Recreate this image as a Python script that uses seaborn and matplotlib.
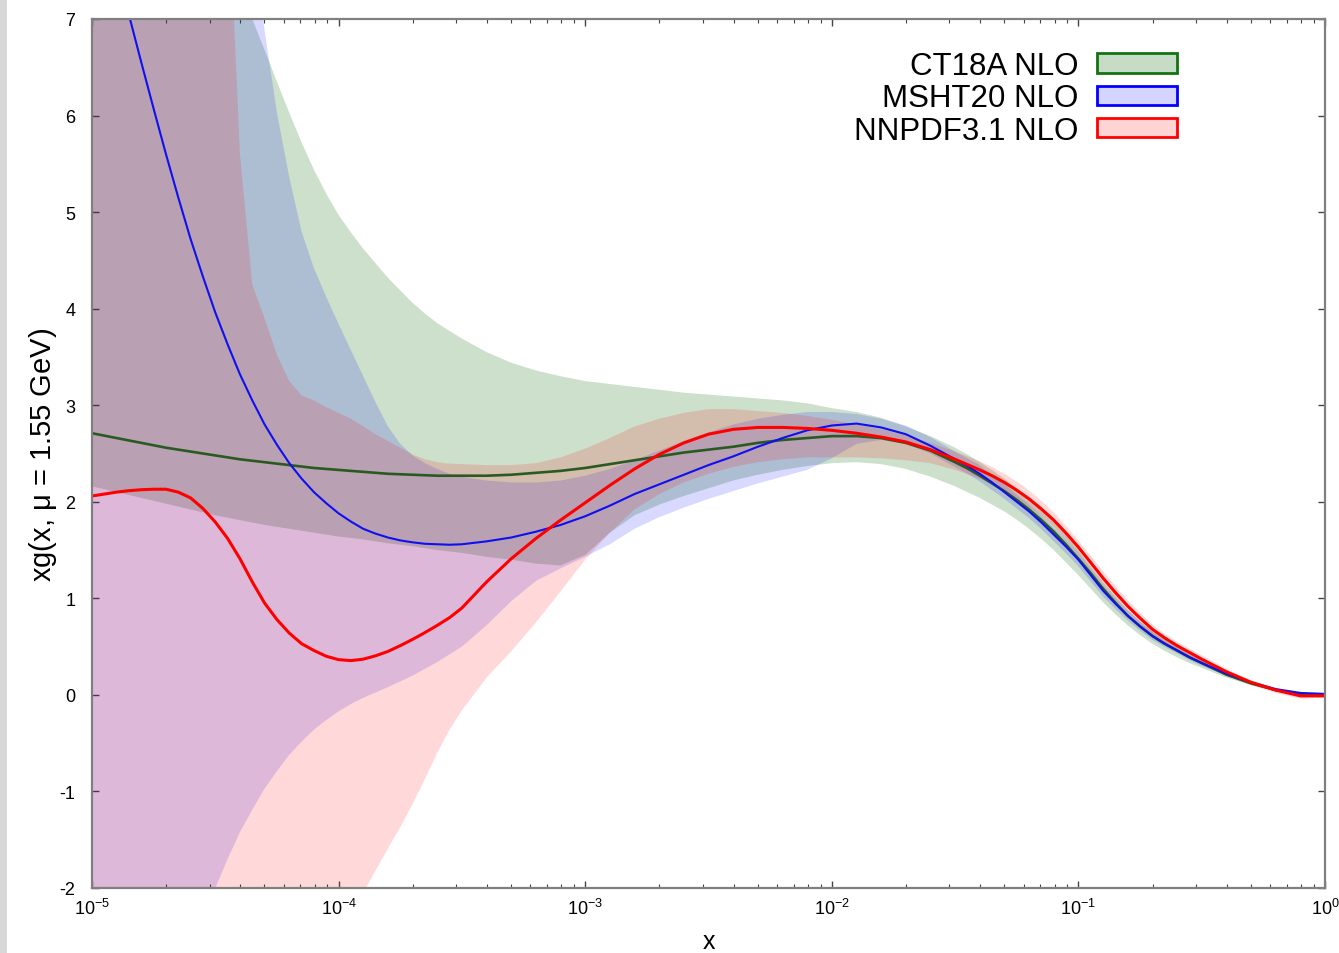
import matplotlib
matplotlib.use("Agg")
import matplotlib.pyplot as plt
import seaborn as sns
import numpy as np
import pandas as pd
from matplotlib.patches import Patch, Rectangle
from matplotlib.colors import to_rgba
from matplotlib.ticker import LogLocator, LogFormatterSciNotation, NullFormatter, FixedLocator

# ---------------------------------------------------------------------------
# Gluon PDF x*g(x) at mu = 1.55 GeV, sampled in log10(x)
# (finer sampling where the curves bend strongly)
# ---------------------------------------------------------------------------
LOG10_X = [-5.00, -4.95, -4.90, -4.85, -4.80, -4.75, -4.70, -4.65, -4.60, -4.55,
           -4.50, -4.45, -4.40, -4.35, -4.30, -4.25, -4.20, -4.15, -4.10, -4.05,
           -4.00, -3.95, -3.90, -3.85, -3.80, -3.75, -3.70, -3.65, -3.60, -3.55,
           -3.50,
           -3.4, -3.3, -3.2, -3.1, -3.0, -2.9, -2.8, -2.7, -2.6, -2.5,
           -2.4, -2.3, -2.2, -2.1, -2.0, -1.9, -1.8, -1.7, -1.6,
           -1.50, -1.45, -1.40, -1.35, -1.30, -1.25, -1.20, -1.15, -1.10, -1.05,
           -1.00, -0.95, -0.90, -0.85, -0.80, -0.75, -0.70, -0.65, -0.60, -0.55,
           -0.50,
           -0.4, -0.3, -0.2, -0.1, 0.0]

CT18A_CENTRAL = [2.71, 2.685, 2.66, 2.635, 2.61, 2.585, 2.56, 2.54, 2.52, 2.50,
                 2.48, 2.46, 2.44, 2.425, 2.41, 2.395, 2.38, 2.365, 2.35, 2.34,
                 2.33, 2.32, 2.31, 2.30, 2.29, 2.285, 2.28, 2.275, 2.27, 2.27,
                 2.27,
                 2.27, 2.28, 2.30, 2.32, 2.35, 2.39, 2.43, 2.47, 2.51, 2.54,
                 2.57, 2.61, 2.64, 2.66, 2.68, 2.68, 2.66, 2.61, 2.53,
                 2.41, 2.345, 2.27, 2.19, 2.11, 2.02, 1.92, 1.81, 1.69, 1.555,
                 1.41, 1.26, 1.10, 0.955, 0.82, 0.71, 0.61, 0.53, 0.46, 0.39,
                 0.33,
                 0.21, 0.12, 0.05, 0.01, 0.00]
CT18A_LOWER = [2.16, 2.13, 2.10, 2.07, 2.04, 2.01, 1.98, 1.95, 1.92, 1.89,
               1.86, 1.835, 1.81, 1.785, 1.76, 1.74, 1.72, 1.70, 1.68, 1.66,
               1.64, 1.625, 1.61, 1.59, 1.57, 1.555, 1.54, 1.52, 1.50, 1.485,
               1.47,
               1.43, 1.40, 1.36, 1.34, 1.45, 1.68, 1.86, 1.97, 2.06, 2.14,
               2.22, 2.28, 2.33, 2.37, 2.40, 2.41, 2.39, 2.34, 2.26,
               2.16, 2.10, 2.04, 1.97, 1.90, 1.815, 1.72, 1.615, 1.50, 1.37,
               1.24, 1.10, 0.96, 0.835, 0.72, 0.62, 0.53, 0.455, 0.39, 0.33,
               0.28,
               0.18, 0.10, 0.04, 0.00, -0.01]
CT18A_UPPER = [13.0, 12.4, 11.8, 11.2, 10.7, 10.2, 9.7, 9.25, 8.8, 8.4,
               8.0, 7.65, 7.32, 7.0, 6.68, 6.35, 6.03, 5.72, 5.44, 5.19,
               4.97, 4.79, 4.62, 4.47, 4.32, 4.19, 4.06, 3.95, 3.85, 3.77,
               3.69,
               3.55, 3.44, 3.36, 3.30, 3.25, 3.22, 3.19, 3.16, 3.13, 3.11,
               3.09, 3.07, 3.05, 3.02, 2.97, 2.93, 2.87, 2.78, 2.68,
               2.56, 2.49, 2.41, 2.33, 2.24, 2.14, 2.03, 1.915, 1.79, 1.65,
               1.50, 1.33, 1.17, 1.02, 0.88, 0.76, 0.66, 0.575, 0.50, 0.42,
               0.35,
               0.23, 0.13, 0.06, 0.02, 0.01]

MSHT20_CENTRAL = [8.60, 8.06, 7.55, 7.04, 6.55, 6.07, 5.60, 5.15, 4.72, 4.33,
                  3.96, 3.63, 3.32, 3.05, 2.80, 2.59, 2.40, 2.24, 2.10, 1.985,
                  1.88, 1.795, 1.72, 1.67, 1.63, 1.60, 1.58, 1.565, 1.56, 1.555,
                  1.56,
                  1.59, 1.63, 1.69, 1.76, 1.85, 1.96, 2.08, 2.18, 2.28, 2.38,
                  2.47, 2.57, 2.66, 2.74, 2.79, 2.81, 2.77, 2.70, 2.58,
                  2.44, 2.37, 2.29, 2.20, 2.10, 2.00, 1.90, 1.785, 1.66, 1.535,
                  1.40, 1.24, 1.08, 0.945, 0.82, 0.71, 0.61, 0.53, 0.46, 0.39,
                  0.33,
                  0.22, 0.13, 0.06, 0.02, 0.01]
MSHT20_LOWER = [-6.0, -5.5, -5.0, -4.55, -4.1, -3.7, -3.3, -2.95, -2.6, -2.29,
                -2.0, -1.70, -1.42, -1.19, -0.97, -0.79, -0.62, -0.485, -0.36, -0.26,
                -0.17, -0.095, -0.03, 0.025, 0.08, 0.14, 0.20, 0.27, 0.34, 0.42,
                0.50,
                0.72, 0.97, 1.18, 1.31, 1.43, 1.56, 1.72, 1.84, 1.94, 2.03,
                2.11, 2.19, 2.26, 2.33, 2.45, 2.60, 2.64, 2.60, 2.50,
                2.36, 2.29, 2.21, 2.12, 2.03, 1.93, 1.83, 1.715, 1.59, 1.465,
                1.33, 1.175, 1.02, 0.89, 0.77, 0.665, 0.57, 0.495, 0.43, 0.36,
                0.30,
                0.20, 0.11, 0.05, 0.01, 0.00]
MSHT20_UPPER = [18.0, 17.4, 16.8, 16.2, 15.6, 15.0, 14.4, 13.8, 13.2, 12.5,
                11.7, 10.8, 9.8, 7.9, 6.88, 6.03, 5.36, 4.80, 4.42, 4.12,
                3.84, 3.57, 3.30, 3.03, 2.78, 2.60, 2.48, 2.40, 2.34, 2.29,
                2.26,
                2.22, 2.20, 2.20, 2.22, 2.27, 2.34, 2.43, 2.53, 2.63, 2.72,
                2.80, 2.86, 2.90, 2.93, 2.93, 2.91, 2.86, 2.79, 2.67,
                2.52, 2.45, 2.38, 2.28, 2.18, 2.075, 1.97, 1.855, 1.73, 1.605,
                1.47, 1.305, 1.14, 1.00, 0.87, 0.755, 0.65, 0.565, 0.49, 0.42,
                0.36,
                0.24, 0.15, 0.07, 0.03, 0.02]

NNPDF31_CENTRAL = [2.06, 2.08, 2.10, 2.115, 2.125, 2.13, 2.13, 2.10, 2.04, 1.93,
                   1.79, 1.62, 1.41, 1.17, 0.95, 0.78, 0.64, 0.53, 0.46, 0.40,
                   0.365, 0.355, 0.37, 0.405, 0.45, 0.51, 0.575, 0.645, 0.72, 0.80,
                   0.90,
                   1.17, 1.41, 1.62, 1.81, 1.99, 2.17, 2.34, 2.49, 2.61, 2.70,
                   2.75, 2.77, 2.77, 2.76, 2.74, 2.71, 2.67, 2.62, 2.54,
                   2.44, 2.385, 2.33, 2.27, 2.20, 2.12, 2.03, 1.925, 1.81, 1.675,
                   1.53, 1.37, 1.21, 1.06, 0.92, 0.795, 0.68, 0.59, 0.51, 0.44,
                   0.37,
                   0.24, 0.13, 0.05, -0.01, -0.01]
NNPDF31_LOWER = [-8.4, -8.1, -7.8, -7.5, -7.2, -6.9, -6.6, -6.3, -6.0, -5.7,
                 -5.4, -5.1, -4.8, -4.5, -4.2, -3.9, -3.6, -3.3, -3.03, -2.76,
                 -2.50, -2.27, -2.05, -1.82, -1.59, -1.37, -1.13, -0.87, -0.60, -0.36,
                 -0.16,
                 0.18, 0.45, 0.75, 1.07, 1.40, 1.68, 1.92, 2.08, 2.20, 2.29,
                 2.36, 2.41, 2.44, 2.46, 2.46, 2.46, 2.45, 2.43, 2.40,
                 2.33, 2.285, 2.24, 2.185, 2.12, 2.04, 1.95, 1.855, 1.74, 1.605,
                 1.46, 1.30, 1.14, 0.99, 0.86, 0.74, 0.63, 0.545, 0.47, 0.40,
                 0.33,
                 0.20, 0.10, 0.02, -0.04, -0.03]
NNPDF31_UPPER = [14.0, 13.6, 13.2, 12.8, 12.4, 12.0, 11.6, 11.2, 10.8, 10.4,
                 10.0, 8.5, 5.6, 4.25, 3.90, 3.52, 3.25, 3.10, 3.05, 2.98,
                 2.92, 2.86, 2.78, 2.70, 2.63, 2.56, 2.49, 2.44, 2.41, 2.395,
                 2.39,
                 2.38, 2.38, 2.40, 2.46, 2.55, 2.66, 2.78, 2.86, 2.92, 2.96,
                 2.96, 2.94, 2.92, 2.89, 2.85, 2.80, 2.75, 2.69, 2.61,
                 2.52, 2.47, 2.42, 2.36, 2.29, 2.21, 2.12, 2.01, 1.89, 1.75,
                 1.60, 1.44, 1.28, 1.13, 0.98, 0.85, 0.73, 0.63, 0.55, 0.48,
                 0.41,
                 0.27, 0.15, 0.07, 0.01, 0.00]

SET_LABELS = ["CT18A NLO", "MSHT20 NLO", "NNPDF3.1 NLO"]
Y_TICKS = [-2, -1, 0, 1, 2, 3, 4, 5, 6, 7]

# ---------------------------------------------------------------------------
sns.set_theme(style="ticks")
plt.rcParams["font.family"] = ["Liberation Sans", "DejaVu Sans"]
plt.rcParams["mathtext.fontset"] = "custom"
plt.rcParams["mathtext.rm"] = "Liberation Sans"
plt.rcParams["mathtext.it"] = "Liberation Sans:italic"
plt.rcParams["mathtext.default"] = "regular"
plt.rcParams["axes.unicode_minus"] = False
plt.rcParams["text.color"] = "black"
plt.rcParams["axes.labelcolor"] = "black"
plt.rcParams["xtick.labelcolor"] = "black"
plt.rcParams["ytick.labelcolor"] = "black"

x_vals = 10.0 ** np.array(LOG10_X)

frames = []
for name, cen, lo, hi in [
    (SET_LABELS[0], CT18A_CENTRAL, CT18A_LOWER, CT18A_UPPER),
    (SET_LABELS[1], MSHT20_CENTRAL, MSHT20_LOWER, MSHT20_UPPER),
    (SET_LABELS[2], NNPDF31_CENTRAL, NNPDF31_LOWER, NNPDF31_UPPER),
]:
    frames.append(pd.DataFrame({"x": x_vals, "xg": cen, "lo": lo, "hi": hi, "set": name}))
df = pd.concat(frames, ignore_index=True)

band_colors = {SET_LABELS[0]: "#006400", SET_LABELS[1]: "#0000ff", SET_LABELS[2]: "#ff0000"}
band_alpha = {SET_LABELS[0]: 0.20, SET_LABELS[1]: 0.15, SET_LABELS[2]: 0.15}
line_colors = {SET_LABELS[0]: "#2a5a22", SET_LABELS[1]: "#1010ee", SET_LABELS[2]: "#ff0000"}
edge_colors = {SET_LABELS[0]: "#137313", SET_LABELS[1]: "#0000ff", SET_LABELS[2]: "#ff0000"}
line_widths = {SET_LABELS[0]: 1.9, SET_LABELS[1]: 1.5, SET_LABELS[2]: 2.2}

fig = plt.figure(figsize=(13.39, 9.54), dpi=100)
ax = fig.add_axes([92 / 1339, 1 - 889 / 954, (1325 - 92) / 1339, (889 - 20) / 954])

# uncertainty bands
for name in SET_LABELS:
    sub = df[df["set"] == name]
    ax.fill_between(sub["x"], sub["lo"], sub["hi"], color=band_colors[name],
                    alpha=band_alpha[name], linewidth=0)

# central values
for name in SET_LABELS:
    sub = df[df["set"] == name]
    sns.lineplot(data=sub, x="x", y="xg", ax=ax, color=line_colors[name],
                 linewidth=line_widths[name], estimator=None, sort=False, legend=False)

ax.set_xscale("log")
ax.set_xlim(1e-5, 1.0)
ax.set_ylim(-2, 7)

ax.xaxis.set_major_locator(LogLocator(base=10, numticks=10))
ax.xaxis.set_minor_locator(LogLocator(base=10, subs=np.arange(2, 10), numticks=100))
ax.xaxis.set_major_formatter(LogFormatterSciNotation(base=10))
ax.xaxis.set_minor_formatter(NullFormatter())
ax.yaxis.set_major_locator(FixedLocator(Y_TICKS))

ax.tick_params(which="both", direction="in", top=True, right=True, color="#444444")
ax.tick_params(which="major", length=5, width=1.0)
ax.tick_params(which="minor", length=3, width=0.8)
ax.tick_params(axis="x", which="major", labelsize=13, pad=7)
ax.tick_params(axis="y", which="major", labelsize=13, pad=12)

for sp in ax.spines.values():
    sp.set_color("#808080")
    sp.set_linewidth(1.6)

ax.set_xlabel("x", fontsize=18, labelpad=8)
ax.set_ylabel(r"xg(x, $\mu$ = 1.55 GeV)", fontsize=21, labelpad=0)

handles = [Patch(facecolor=to_rgba(band_colors[n], band_alpha[n] + 0.02),
                 edgecolor=edge_colors[n], linewidth=2.0) for n in SET_LABELS]
ax.legend(handles, SET_LABELS, loc="upper right", bbox_to_anchor=(0.88, 0.963),
          frameon=False, markerfirst=False, fontsize=22.5, handlelength=2.56,
          handleheight=0.58, handletextpad=0.6, labelspacing=0.07,
          borderpad=0, borderaxespad=0, labelcolor="black")

# thin grey strip on the left edge of the page
fig.patches.append(Rectangle((0, 0), 7 / 1339, 1, transform=fig.transFigure,
                             facecolor="#d8d8d8", edgecolor="none", zorder=-1))

fig.savefig("out.png", dpi=100, facecolor="white")
